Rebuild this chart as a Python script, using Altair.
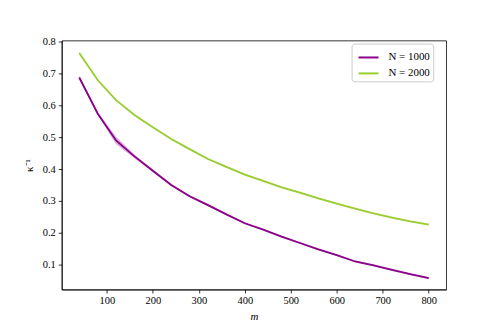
import altair as alt
import pandas as pd

m_vals = [40, 80, 120, 160, 200, 240, 280, 320, 360, 400, 440, 480, 520, 560, 600, 640, 680, 720, 760, 800]
k_1000 = [0.688, 0.575, 0.490, 0.440, 0.395, 0.350, 0.315, 0.287, 0.258, 0.230, 0.210, 0.188, 0.168, 0.148, 0.130, 0.110, 0.098, 0.084, 0.070, 0.058]
k_2000 = [0.765, 0.680, 0.617, 0.570, 0.532, 0.495, 0.463, 0.432, 0.407, 0.383, 0.363, 0.343, 0.326, 0.308, 0.292, 0.276, 0.261, 0.248, 0.236, 0.226]
band_1000 = [0.006, 0.005, 0.012, 0.006, 0.005, 0.004, 0.003, 0.004, 0.003, 0.003, 0.003, 0.003, 0.003, 0.003, 0.003, 0.003, 0.003, 0.003, 0.003, 0.003]
band_2000 = [0.004, 0.003, 0.003, 0.003, 0.003, 0.003, 0.003, 0.003, 0.003, 0.003, 0.003, 0.003, 0.003, 0.003, 0.003, 0.003, 0.003, 0.003, 0.003, 0.003]
series_names = ["N = 1000", "N = 2000"]
series_colors = ["#8B008B", "#9ACD32"]
x_ticks = [100, 200, 300, 400, 500, 600, 700, 800]
y_ticks = [0.1, 0.2, 0.3, 0.4, 0.5, 0.6, 0.7, 0.8]

rows = []
for name, vals, band in [(series_names[0], k_1000, band_1000), (series_names[1], k_2000, band_2000)]:
    for m, v, b in zip(m_vals, vals, band):
        rows.append({"m": m, "k": v, "lo": v - b, "hi": v + b, "series": name})
df = pd.DataFrame(rows)

FONT = "Liberation Serif"
xscale = alt.Scale(domain=[2, 838], nice=False, zero=False)
yscale = alt.Scale(domain=[0.022, 0.804], nice=False, zero=False)
cscale = alt.Scale(domain=series_names, range=series_colors)

xaxis = alt.Axis(values=x_ticks, title="m", titleFontStyle="italic", format="d")
yaxis = alt.Axis(values=y_ticks, format=".1f", title="κ⁻¹", titlePadding=8)
legend = alt.Legend(title=None, orient="none", legendX=291, legendY=3,
                    symbolType="stroke", symbolSize=400, symbolStrokeWidth=2,
                    symbolOpacity=1,
                    labelFont=FONT, labelFontSize=11, labelColor="black",
                    fillColor="white", strokeColor="#cccccc",
                    padding=3, cornerRadius=3, rowPadding=-2.4,
                    symbolOffset=3, labelOffset=9, offset=0)

band = alt.Chart(df).mark_area(opacity=0.3).encode(
    x=alt.X("m:Q", scale=xscale, axis=xaxis),
    y=alt.Y("lo:Q", scale=yscale, axis=yaxis),
    y2="hi:Q",
    color=alt.Color("series:N", scale=cscale, legend=legend),
)

line = alt.Chart(df).mark_line(strokeWidth=1.8).encode(
    x=alt.X("m:Q", scale=xscale, axis=xaxis),
    y=alt.Y("k:Q", scale=yscale, axis=yaxis),
    color=alt.Color("series:N", scale=cscale, legend=legend),
)

chart = (band + line).properties(
    width=386, height=250,
    autosize=alt.AutoSizeParams(type="none"),
    padding={"left": 54, "top": 32, "right": 44, "bottom": 42},
).configure_view(
    stroke="black", strokeWidth=0.8
).configure_axis(
    grid=False, domainColor="black", domainWidth=0.8, tickColor="black", tickWidth=0.8,
    tickSize=3.5, labelFont=FONT, labelFontSize=10.5, labelColor="black",
    titleFont=FONT, titleFontSize=11, titleColor="black", titleFontWeight="normal",
    labelPadding=3,
)

chart.save("out.html", embed_options={"renderer": "svg", "actions": False})
